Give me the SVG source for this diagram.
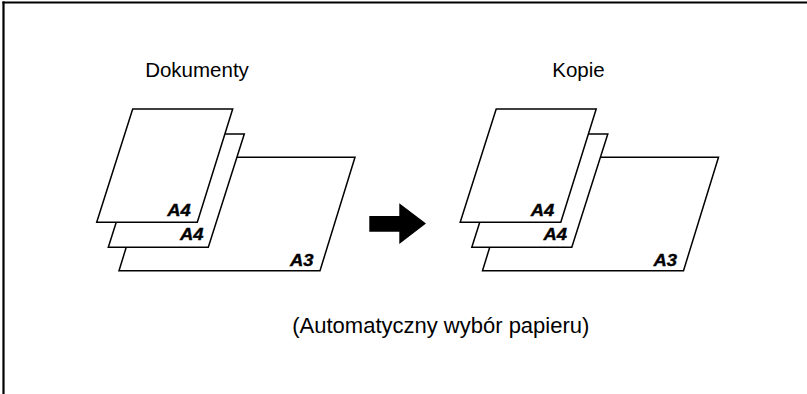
<svg xmlns="http://www.w3.org/2000/svg" width="807" height="394" viewBox="0 0 807 394">
<style>
.sheet{fill:#fff;stroke:#000;stroke-width:1.5;stroke-linejoin:miter}
.lbl{font-family:"Liberation Sans",Arial,sans-serif;font-weight:bold;font-style:italic;font-size:17px;fill:#000;stroke:#000;stroke-width:0.4}
.title{font-family:"Liberation Sans",Arial,sans-serif;font-size:20.5px;fill:#000;text-anchor:middle}
.frame{stroke:#000;stroke-width:2.2;fill:none}
</style>
<defs>
<g id="stack">
<polygon class="sheet" points="154,157.3 355,157.3 320,270.7 119,270.7"/>
<text class="lbl" x="290" y="265.7" textLength="23.5" lengthAdjust="spacingAndGlyphs">A3</text>
<polygon class="sheet" points="144.3,134 244.3,134 208.3,247.3 108.3,247.3"/>
<text class="lbl" x="180" y="240.3" textLength="23.5" lengthAdjust="spacingAndGlyphs">A4</text>
<polygon class="sheet" points="132.7,109 232.7,109 197.3,222.3 96.7,222.3"/>
<text class="lbl" x="167.3" y="215.7" textLength="23.5" lengthAdjust="spacingAndGlyphs">A4</text>
</g>
</defs>
<g id="frame">
<line class="frame" x1="2.4" y1="2.5" x2="807" y2="2.5"/>
<line class="frame" x1="3.5" y1="1.4" x2="3.5" y2="394"/>
</g>
<g id="documents">
<text class="title" x="197" y="76.7">Dokumenty</text>
<use href="#stack"/>
</g>
<g id="copies">
<text class="title" x="578.5" y="76.7">Kopie</text>
<use href="#stack" transform="translate(363.5,0)"/>
</g>
<g id="connectors">
<polygon fill="#000" points="369.3,216 399.3,216 399.3,203.3 426,223.6 399.3,244 399.3,231.7 369.3,231.7"/>
</g>
<g id="caption">
<text class="title" x="440.8" y="332.7" style="font-size:22px">(Automatyczny wybór papieru)</text>
</g>
</svg>
